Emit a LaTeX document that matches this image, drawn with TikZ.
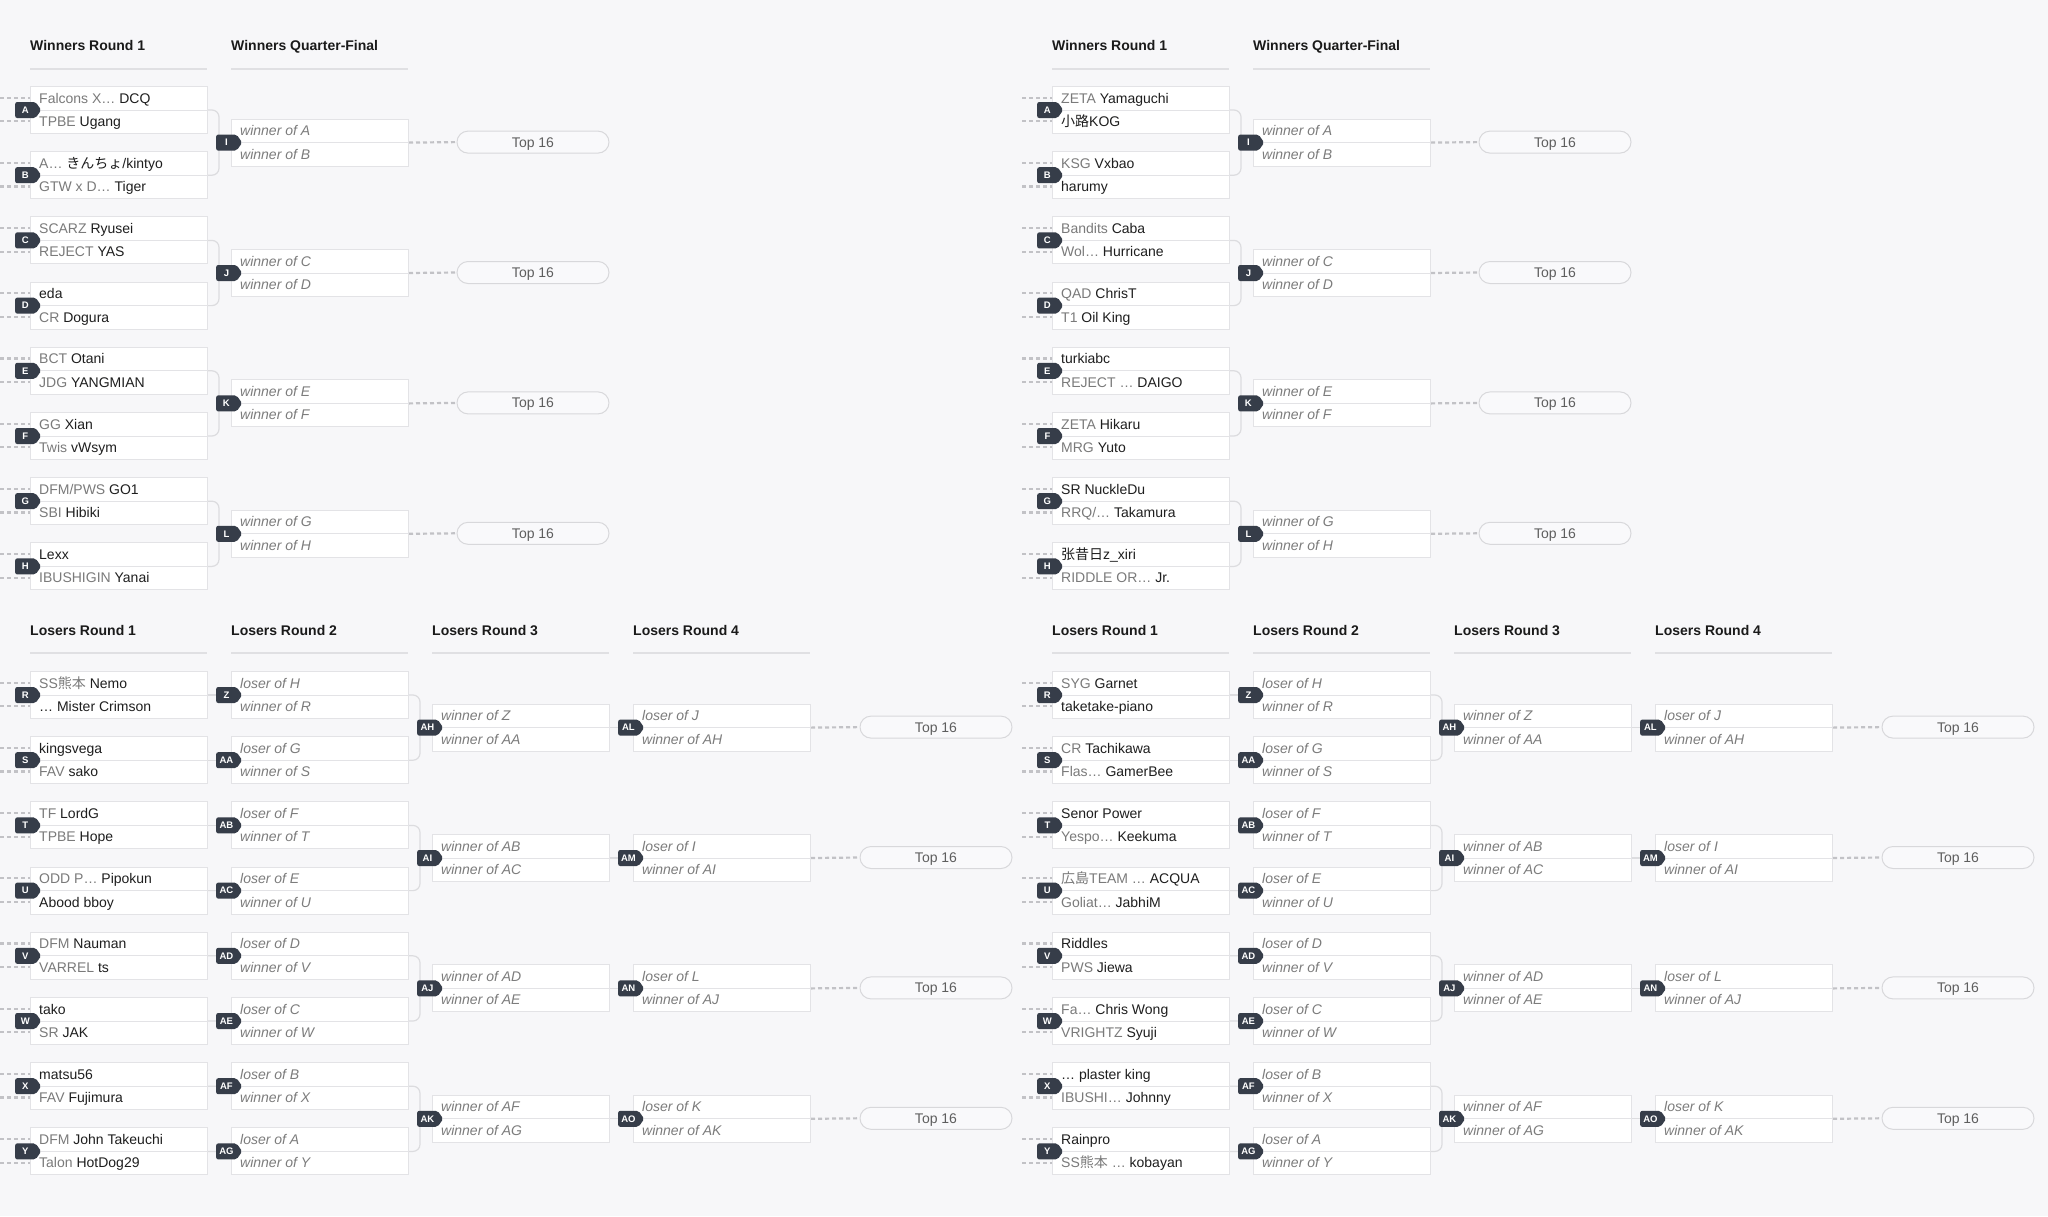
\documentclass[tikz,border=0pt]{standalone}
\usepackage{fontspec}
\setmainfont{Liberation Sans}
\newfontfamily\cjk{Noto Sans CJK JP}
\usetikzlibrary{shapes.symbols}
\definecolor{bgc}{HTML}{F7F7F9}
\definecolor{boxc}{HTML}{E3E3E6}
\definecolor{connc}{HTML}{DCDCDF}
\definecolor{dashc}{HTML}{C2C2C6}
\definecolor{badgec}{HTML}{363D49}
\definecolor{namec}{HTML}{1E1E1E}
\definecolor{pfxc}{HTML}{7A7A7A}
\definecolor{italc}{HTML}{7C7C7C}
\definecolor{pillc}{HTML}{D8D8DB}
\definecolor{pillf}{HTML}{F9F9FB}
\definecolor{topc}{HTML}{5E5E5E}
\definecolor{headc}{HTML}{1A1A1A}
\definecolor{hlc}{HTML}{E0E0E3}
\newcommand\gp[1]{\textcolor{pfxc}{#1}}
\newcommand\wo[1]{\textcolor{italc}{\itshape #1}}
\pgfdeclarelayer{back}
\pgfdeclarelayer{conn}
\pgfsetlayers{back,conn,main}
\tikzset{
 mbox/.style={draw=boxc, fill=white, line width=1pt, minimum width=177pt, minimum height=47pt, inner sep=0pt, anchor=north west},
 dline/.style={draw=boxc, line width=1pt},
 txt/.style={anchor=base west, inner sep=0pt, font=\fontsize{14}{16}\selectfont, text=namec},
 badge/.style={signal, signal to=east, signal pointer angle=110, fill=badgec, text=white, font=\fontsize{9.5}{10}\selectfont\bfseries, minimum width=26pt, minimum height=16pt, inner sep=0pt, rounded corners=2pt, anchor=west},
 conn/.style={draw=connc, line width=1.2pt, rounded corners=7pt},
 stub/.style={draw=dashc, line width=2.2pt, dash pattern=on 4pt off 3pt},
 pill/.style={draw=pillc, fill=pillf, line width=1pt, rounded corners=11pt, minimum width=152pt, minimum height=22pt, inner sep=0pt, text height=10pt, text depth=0pt, font=\fontsize{14}{16}\selectfont, text=topc},
 head/.style={anchor=base west, inner sep=0pt, font=\fontsize{14}{16}\selectfont\bfseries, text=headc},
 hline/.style={draw=hlc, line width=1.2pt},
}
\newcommand\game[6]{%
  \node[mbox] (#1) at (#2,#3) {};
  \draw[dline] (#1.west) -- (#1.east);
  \node[txt] (#1-u) at ([xshift=9pt,yshift=-17.05pt]#1.north west) {#5};
  \node[txt] (#1-v) at ([xshift=9pt,yshift=-40.55pt]#1.north west) {#6};
  \node[badge] (#1-b) at ([xshift=-15pt]#1.west) {#4};
}
\begin{document}
\begin{tikzpicture}[x=1pt,y=-1pt]
\begin{pgfonlayer}{back}
\fill[bgc] (0,0) rectangle (2048,1216);
\end{pgfonlayer}
\useasboundingbox (0,0) rectangle (2048,1216);

% ---------- left half, round 1 ----------
\game{a-A}{30}{86}{A}{\gp{Falcons X…} DCQ}{\gp{TPBE} Ugang}
\game{a-B}{30}{151.2}{B}{\gp{A…} {\cjk きんちょ}/kintyo}{\gp{GTW x D…} Tiger}
\game{a-C}{30}{216.4}{C}{\gp{SCARZ} Ryusei}{\gp{REJECT} YAS}
\game{a-D}{30}{281.6}{D}{eda}{\gp{CR} Dogura}
\game{a-E}{30}{346.8}{E}{\gp{BCT} Otani}{\gp{JDG} YANGMIAN}
\game{a-F}{30}{412}{F}{\gp{GG} Xian}{\gp{Twis} vWsym}
\game{a-G}{30}{477.2}{G}{\gp{DFM/PWS} GO1}{\gp{SBI} Hibiki}
\game{a-H}{30}{542.4}{H}{Lexx}{\gp{IBUSHIGIN} Yanai}
\game{a-R}{30}{671}{R}{\gp{SS{\cjk 熊本}} Nemo}{… Mister Crimson}
\game{a-S}{30}{736.2}{S}{kingsvega}{\gp{FAV} sako}
\game{a-T}{30}{801.4}{T}{\gp{TF} LordG}{\gp{TPBE} Hope}
\game{a-U}{30}{866.6}{U}{\gp{ODD P…} Pipokun}{Abood bboy}
\game{a-V}{30}{931.8}{V}{\gp{DFM} Nauman}{\gp{VARREL} ts}
\game{a-W}{30}{997}{W}{tako}{\gp{SR} JAK}
\game{a-X}{30}{1062.2}{X}{matsu56}{\gp{FAV} Fujimura}
\game{a-Y}{30}{1127.4}{Y}{\gp{DFM} John Takeuchi}{\gp{Talon} HotDog29}

% ---------- right half, round 1 ----------
\game{b-A}{1052}{86}{A}{\gp{ZETA} Yamaguchi}{{\cjk 小路}KOG}
\game{b-B}{1052}{151.2}{B}{\gp{KSG} Vxbao}{harumy}
\game{b-C}{1052}{216.4}{C}{\gp{Bandits} Caba}{\gp{Wol…} Hurricane}
\game{b-D}{1052}{281.6}{D}{\gp{QAD} ChrisT}{\gp{T1} Oil King}
\game{b-E}{1052}{346.8}{E}{turkiabc}{\gp{REJECT …} DAIGO}
\game{b-F}{1052}{412}{F}{\gp{ZETA} Hikaru}{\gp{MRG} Yuto}
\game{b-G}{1052}{477.2}{G}{SR NuckleDu}{\gp{RRQ/…} Takamura}
\game{b-H}{1052}{542.4}{H}{{\cjk 张昔日}z\_xiri}{\gp{RIDDLE OR…} Jr.}
\game{b-R}{1052}{671}{R}{\gp{SYG} Garnet}{taketake-piano}
\game{b-S}{1052}{736.2}{S}{\gp{CR} Tachikawa}{\gp{Flas…} GamerBee}
\game{b-T}{1052}{801.4}{T}{Senor Power}{\gp{Yespo…} Keekuma}
\game{b-U}{1052}{866.6}{U}{\gp{{\cjk 広島}TEAM …} ACQUA}{\gp{Goliat…} JabhiM}
\game{b-V}{1052}{931.8}{V}{Riddles}{\gp{PWS} Jiewa}
\game{b-W}{1052}{997}{W}{\gp{Fa…} Chris Wong}{\gp{VRIGHTZ} Syuji}
\game{b-X}{1052}{1062.2}{X}{… plaster king}{\gp{IBUSHI…} Johnny}
\game{b-Y}{1052}{1127.4}{Y}{Rainpro}{\gp{SS{\cjk 熊本} …} kobayan}

% ---------- generic parts of both halves ----------
\foreach \h/\dx in {a/0,b/1022}{
  % headers
  \node[head] (\h-hw1) at (\dx+30,50.7) {Winners Round 1};
  \node[head] (\h-hw2) at (\dx+231,50.7) {Winners Quarter-Final};
  \node[head] (\h-hl1) at (\dx+30,635.7) {Losers Round 1};
  \node[head] (\h-hl2) at (\dx+231,635.7) {Losers Round 2};
  \node[head] (\h-hl3) at (\dx+432,635.7) {Losers Round 3};
  \node[head] (\h-hl4) at (\dx+633,635.7) {Losers Round 4};
  \foreach \cx in {30,231}{\draw[hline] (\dx+\cx,69) -- (\dx+\cx+177,69);}
  \foreach \cx in {30,231,432,633}{\draw[hline] (\dx+\cx,653) -- (\dx+\cx+177,653);}
  % winners quarter-finals
  \foreach \id/\k/\p/\q in {I/0/A/B,J/1/C/D,K/2/E/F,L/3/G/H}{
    \game{\h-\id}{\dx+231}{118.6+130.4*\k}{\id}{\wo{winner of \p}}{\wo{winner of \q}}
    \node[pill] (\h-\id-p) at (\dx+533,142.1+130.4*\k) {Top 16};
    \begin{pgfonlayer}{conn}
      \draw[conn] (\h-\p.east) -- ++(11,0) |- (\h-\q.east);
      \draw[stub] (\h-\id.east) -- (\h-\id-p.west);
    \end{pgfonlayer}
  }
  % losers round 2
  \foreach \id/\k/\p/\q in {Z/0/H/R,AA/1/G/S,AB/2/F/T,AC/3/E/U,AD/4/D/V,AE/5/C/W,AF/6/B/X,AG/7/A/Y}{
    \game{\h-\id}{\dx+231}{671+65.2*\k}{\id}{\wo{loser of \p}}{\wo{winner of \q}}
    \begin{pgfonlayer}{conn}
      \draw[conn] (\h-\q.east) -- (\h-\id-b.west);
    \end{pgfonlayer}
  }
  % losers round 3
  \foreach \id/\k/\p/\q in {AH/0/Z/AA,AI/1/AB/AC,AJ/2/AD/AE,AK/3/AF/AG}{
    \game{\h-\id}{\dx+432}{703.6+130.4*\k}{\id}{\wo{winner of \p}}{\wo{winner of \q}}
    \begin{pgfonlayer}{conn}
      \draw[conn] (\h-\p.east) -- ++(11,0) |- (\h-\q.east);
    \end{pgfonlayer}
  }
  % losers round 4
  \foreach \id/\k/\p/\q in {AL/0/J/AH,AM/1/I/AI,AN/2/L/AJ,AO/3/K/AK}{
    \game{\h-\id}{\dx+633}{703.6+130.4*\k}{\id}{\wo{loser of \p}}{\wo{winner of \q}}
    \node[pill] (\h-\id-p) at (\dx+936,727.1+130.4*\k) {Top 16};
    \begin{pgfonlayer}{conn}
      \draw[conn] (\h-\q.east) -- (\h-\id-b.west);
      \draw[stub] (\h-\id.east) -- (\h-\id-p.west);
    \end{pgfonlayer}
  }
  % incoming stubs of the first rounds
  \foreach \id/\yt in {A/86,B/151.2,C/216.4,D/281.6,E/346.8,F/412,G/477.2,H/542.4,R/671,S/736.2,T/801.4,U/866.6,V/931.8,W/997,X/1062.2,Y/1127.4}{
    \coordinate (\h-\id-s1) at (\dx,\yt+11.75);
    \coordinate (\h-\id-s2) at (\dx,\yt+35.25);
    \begin{pgfonlayer}{conn}
      \draw[stub] (\h-\id-s1) -- (\h-\id-s1 -| \h-\id.west);
      \draw[stub] (\h-\id-s2) -- (\h-\id-s2 -| \h-\id.west);
    \end{pgfonlayer}
  }
}
\end{tikzpicture}
\end{document}
